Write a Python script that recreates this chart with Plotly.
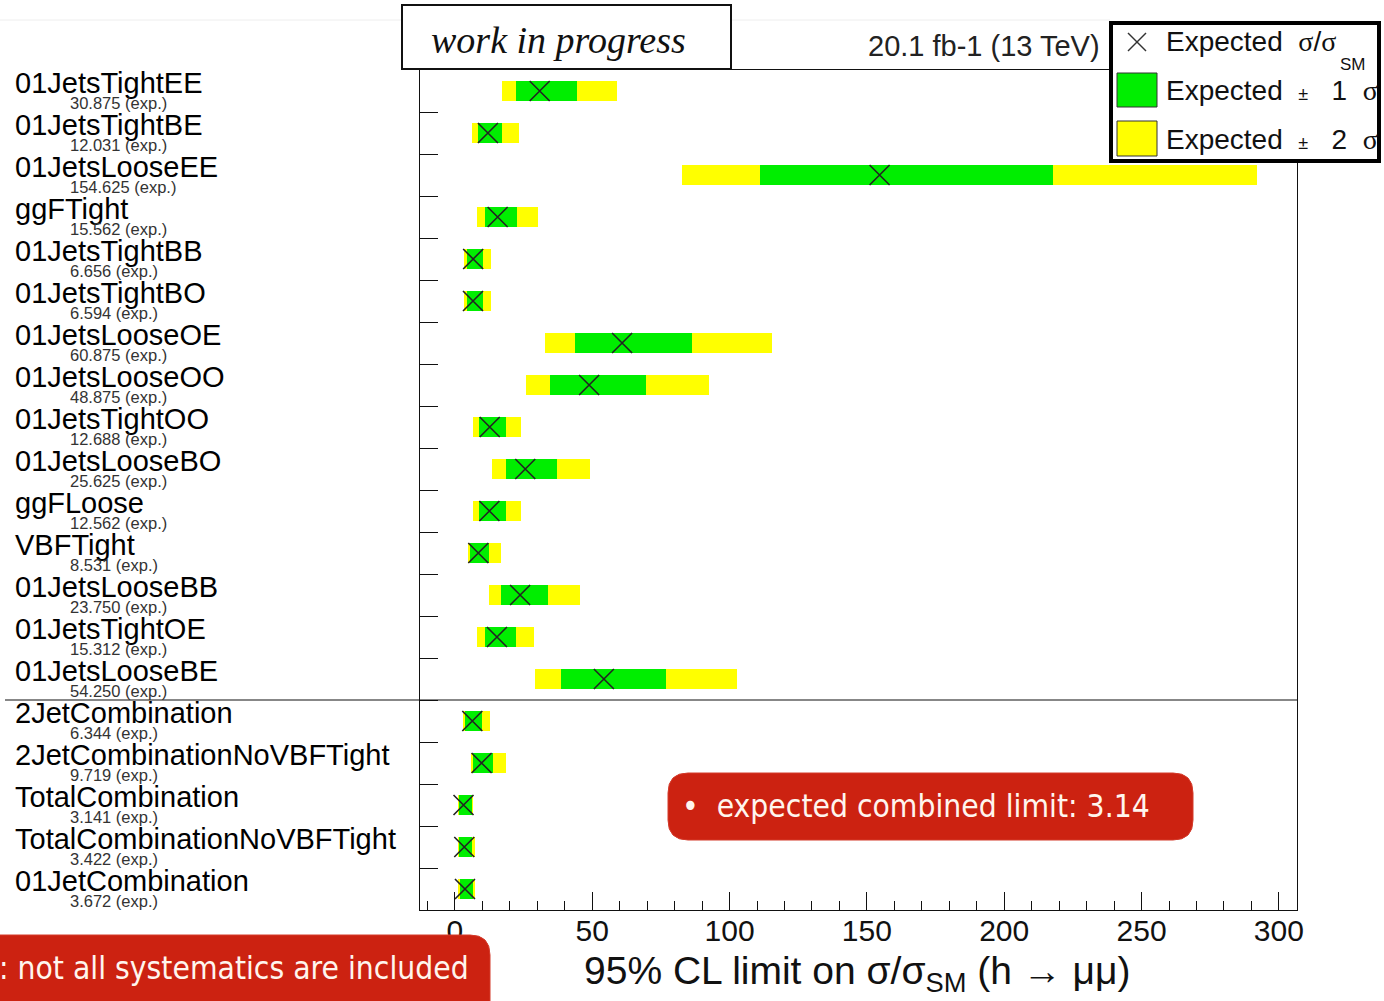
import plotly.graph_objects as go

# Channels, top to bottom
channels = [
    "01JetsTightEE", "01JetsTightBE", "01JetsLooseEE", "ggFTight", "01JetsTightBB",
    "01JetsTightBO", "01JetsLooseOE", "01JetsLooseOO", "01JetsTightOO", "01JetsLooseBO",
    "ggFLoose", "VBFTight", "01JetsLooseBB", "01JetsTightOE", "01JetsLooseBE",
    "2JetCombination", "2JetCombinationNoVBFTight", "TotalCombination",
    "TotalCombinationNoVBFTight", "01JetCombination",
]
# Expected 95% CL limits on sigma/sigma_SM
expected = [30.875, 12.031, 154.625, 15.562, 6.656, 6.594, 60.875, 48.875, 12.688, 25.625,
            12.562, 8.531, 23.750, 15.312, 54.250, 6.344, 9.719, 3.141, 3.422, 3.672]
minus2 = [17.0, 6.1, 82.7, 8.2, 3.4, 3.4, 32.8, 25.9, 6.7, 13.6,
          6.7, 4.6, 12.4, 8.2, 29.1, 3.0, 5.8, 1.0, 1.0, 1.2]
minus1 = [22.2, 8.5, 111.0, 11.0, 4.4, 4.4, 43.9, 34.8, 8.9, 18.5,
          8.9, 5.6, 16.8, 10.9, 38.6, 3.6, 6.5, 1.4, 1.5, 1.7]
plus1 = [44.3, 17.2, 217.8, 22.6, 10.3, 10.3, 86.2, 69.4, 18.5, 37.0,
         18.5, 12.5, 33.8, 22.2, 76.7, 9.7, 14.0, 6.2, 6.3, 6.7]
plus2 = [58.9, 23.3, 292.0, 30.1, 13.1, 13.1, 115.3, 92.6, 24.2, 49.2,
         24.2, 16.8, 45.5, 28.9, 102.8, 12.7, 18.6, 6.7, 7.3, 7.5]
x_ticks = [0, 50, 100, 150, 200, 250, 300]

W, H = 1384, 1001
L, R, T, B = 420, 1297, 70, 910
rows = list(range(len(channels)))


def px(x):
    return (x - L) / (R - L)


def py(y):
    return (B - y) / (B - T)


def rounded_rect(x0, y0, x1, y1, r):
    pts = [
        f"M {px(x0 + r)},{py(y0)}",
        f"L {px(x1 - r)},{py(y0)}",
        f"Q {px(x1)},{py(y0)} {px(x1)},{py(y0 + r)}",
        f"L {px(x1)},{py(y1 - r)}",
        f"Q {px(x1)},{py(y1)} {px(x1 - r)},{py(y1)}",
        f"L {px(x0 + r)},{py(y1)}",
        f"Q {px(x0)},{py(y1)} {px(x0)},{py(y1 - r)}",
        f"L {px(x0)},{py(y0 + r)}",
        f"Q {px(x0)},{py(y0)} {px(x0 + r)},{py(y0)}",
        "Z",
    ]
    return " ".join(pts)


YELLOW = "#ffff00"
GREEN = "#00ee00"
SANS = "Liberation Sans, Arial, sans-serif"
SERIF = "Liberation Serif, Times New Roman, serif"
NBSP = "\u00a0"

fig = go.Figure()
fig.add_trace(go.Bar(
    y=rows, x=[b - a for a, b in zip(minus2, plus2)], base=minus2, orientation="h",
    width=0.47, marker=dict(color=YELLOW, line=dict(width=0)), showlegend=False,
))
fig.add_trace(go.Bar(
    y=rows, x=[b - a for a, b in zip(minus1, plus1)], base=minus1, orientation="h",
    width=0.47, marker=dict(color=GREEN, line=dict(width=0)), showlegend=False,
))
fig.add_trace(go.Scatter(
    x=expected, y=rows, mode="markers", showlegend=False,
    marker=dict(symbol="x-thin", size=20, color="#222", line=dict(width=1.6, color="#222")),
))

annotations = []
for i, (name, val) in enumerate(zip(channels, expected)):
    annotations.append(dict(
        x=px(13), y=i - 0.2, xref="paper", yref="y", text=name, showarrow=False,
        xanchor="left", yanchor="middle", font=dict(family=SANS, size=29, color="#000"),
    ))
    annotations.append(dict(
        x=px(68), y=i + 0.28, xref="paper", yref="y", text=f"{val:.3f} (exp.)", showarrow=False,
        xanchor="left", yanchor="middle", font=dict(family=SANS, size=16.5, color="#333"),
    ))

# axis title
annotations.append(dict(
    x=px(857), y=py(973), xref="paper", yref="paper", showarrow=False,
    text="95% CL limit on σ/σ<sub>SM</sub> (h → μμ)", xanchor="center", yanchor="middle",
    font=dict(family=SANS, size=39, color="#111"),
))
# luminosity label
annotations.append(dict(
    x=px(1102), y=py(46), xref="paper", yref="paper", showarrow=False,
    text="20.1 fb-1 (13 TeV)", xanchor="right", yanchor="middle",
    font=dict(family=SANS, size=29, color="#222"),
))
# work in progress
annotations.append(dict(
    x=px(558), y=py(40), xref="paper", yref="paper", showarrow=False,
    text="<i>work in progress</i>", xanchor="center", yanchor="middle",
    font=dict(family=SERIF, size=38, color="#111"),
))
# legend texts
leg_font = dict(family=SANS, size=28, color="#111")
sig = f"<span style='font-family:{SERIF}'>σ</span>"
pm = "<span style='font-size:18px'>±</span>"
annotations += [
    dict(x=px(1164), y=py(42), xref="paper", yref="paper", showarrow=False,
         text=f"Expected{NBSP}{NBSP}{sig}/{sig}", xanchor="left", yanchor="middle", font=leg_font),
    dict(x=px(1338), y=py(64), xref="paper", yref="paper", showarrow=False,
         text="SM", xanchor="left", yanchor="middle", font=dict(family=SANS, size=17, color="#111")),
    dict(x=px(1164), y=py(90), xref="paper", yref="paper", showarrow=False,
         text=f"Expected{NBSP}{NBSP}{pm}{NBSP}{NBSP}{NBSP}1{NBSP}{NBSP}{sig}", xanchor="left",
         yanchor="middle", font=leg_font),
    dict(x=px(1164), y=py(139), xref="paper", yref="paper", showarrow=False,
         text=f"Expected{NBSP}{NBSP}{pm}{NBSP}{NBSP}{NBSP}2{NBSP}{NBSP}{sig}", xanchor="left",
         yanchor="middle", font=leg_font),
]
# callouts
callout_font = dict(family="DejaVu Sans Condensed, DejaVu Sans, sans-serif", size=31.5, color="#fff5ee")
annotations += [
    dict(x=px(680), y=py(806), xref="paper", yref="paper", showarrow=False,
         text="•  expected combined limit: 3.14", xanchor="left", yanchor="middle", font=callout_font),
    dict(x=px(-3), y=py(968), xref="paper", yref="paper", showarrow=False,
         text=": not all systematics are included", xanchor="left", yanchor="middle", font=callout_font),
]

shapes = [
    # faint page rule
    dict(type="line", xref="paper", yref="paper", x0=px(0), x1=px(1110), y0=py(20), y1=py(20),
         line=dict(color="#eeeeee", width=1), layer="below"),
    # separator between single channels and combinations
    dict(type="line", xref="paper", yref="y", x0=px(5), x1=1, y0=14.5, y1=14.5,
         line=dict(color="#111", width=1.2)),
    # work in progress box
    dict(type="rect", xref="paper", yref="paper", x0=px(402), x1=px(731), y0=py(5), y1=py(69),
         line=dict(color="#111", width=2), fillcolor="white", layer="above"),
    # legend box
    dict(type="rect", xref="paper", yref="paper", x0=px(1111), x1=px(1379), y0=py(23), y1=py(161),
         line=dict(color="#000", width=4), fillcolor="white", layer="above"),
    dict(type="line", xref="paper", yref="paper", x0=px(1128), x1=px(1146), y0=py(33), y1=py(51),
         line=dict(color="#333", width=1.5), layer="above"),
    dict(type="line", xref="paper", yref="paper", x0=px(1128), x1=px(1146), y0=py(51), y1=py(33),
         line=dict(color="#333", width=1.5), layer="above"),
    dict(type="rect", xref="paper", yref="paper", x0=px(1117), x1=px(1157), y0=py(73), y1=py(107),
         line=dict(color="#333", width=1), fillcolor=GREEN, layer="above"),
    dict(type="rect", xref="paper", yref="paper", x0=px(1117), x1=px(1157), y0=py(121), y1=py(156),
         line=dict(color="#333", width=1), fillcolor=YELLOW, layer="above"),
    # callout boxes
    dict(type="path", xref="paper", yref="paper", path=rounded_rect(668, 773, 1193, 840, 20),
         fillcolor="#cc2211", line=dict(color="#d43a2a", width=1), layer="above"),
    dict(type="path", xref="paper", yref="paper", path=rounded_rect(-30, 935, 490, 1030, 20),
         fillcolor="#cc2211", line=dict(color="#d43a2a", width=1), layer="above"),
]

fig.update_layout(
    width=W, height=H,
    margin=dict(l=L, r=W - R, t=T, b=H - B, pad=0),
    paper_bgcolor="white", plot_bgcolor="white",
    barmode="overlay", bargap=0,
    annotations=annotations, shapes=shapes,
    xaxis=dict(
        range=[-12.7, 306.6], tickvals=x_ticks, ticks="inside", ticklen=18, tickwidth=1,
        tickcolor="#111", showgrid=False, zeroline=False, showline=True, linecolor="#111",
        linewidth=1.2, mirror=True, ticklabelstandoff=-6,
        minor=dict(dtick=10, tick0=0, ticks="inside", ticklen=9, tickcolor="#111", showgrid=False),
        tickfont=dict(family=SANS, size=30, color="#111"),
    ),
    yaxis=dict(
        range=[len(channels) - 0.5, -0.5], tickvals=[i + 0.5 for i in rows[:-1]],
        ticks="inside", ticklen=18, tickcolor="#111", showticklabels=False, showgrid=False,
        zeroline=False, showline=True, linecolor="#111", linewidth=1.2, mirror=True,
    ),
)

fig.write_html("out.html")
